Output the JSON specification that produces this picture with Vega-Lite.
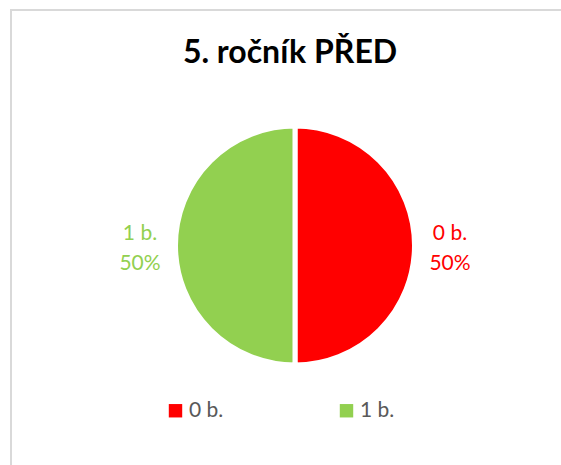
{
  "$schema": "https://vega.github.io/schema/vega-lite/v6.json",
  "usermeta": {"embedOptions": {"actions": false}},
  "width": 568,
  "height": 471,
  "autosize": {"type": "none"},
  "padding": {"left": 11, "top": 10, "right": -18, "bottom": -16},
  "background": "white",
  "view": {"stroke": "#d9d9d9", "strokeWidth": 2},
  "config": {
    "font": "Lato"
  },
  "title": {
    "text": "5. ročník PŘED",
    "font": "Lato",
    "fontSize": 32,
    "fontWeight": "bold",
    "color": "#000000",
    "anchor": "middle",
    "frame": "group",
    "baseline": "alphabetic",
    "offset": -85,
    "dx": -5
  },
  "data": {
    "values": [
      {"category": "0 b.", "value": 1, "label": ["0 b.", "50%"]},
      {"category": "1 b.", "value": 1, "label": ["1 b.", "50%"]}
    ]
  },
  "encoding": {
    "theta": {"field": "value", "type": "quantitative", "stack": true},
    "color": {
      "field": "category",
      "type": "nominal",
      "scale": {"domain": ["0 b.", "1 b."], "range": ["#FF0000", "#92D050"]},
      "legend": {
        "title": null,
        "orient": "none",
        "direction": "horizontal",
        "legendX": 154,
        "legendY": 390,
        "symbolType": "square",
        "symbolSize": 180,
        "symbolStrokeWidth": 0,
        "labelFont": "Lato",
        "labelFontSize": 21,
        "labelColor": "#595959",
        "labelOffset": 3,
        "columnPadding": 112
      }
    }
  },
  "layer": [
    {
      "mark": {"type": "arc", "outerRadius": 119.5, "stroke": "white", "strokeWidth": 5}
    },
    {
      "mark": {"type": "text", "radius": 155, "fontSize": 21, "font": "Lato", "lineHeight": 30, "align": "center", "baseline": "middle", "dy": -12},
      "encoding": {
        "text": {"field": "label", "type": "nominal"}
      }
    }
  ]
}
